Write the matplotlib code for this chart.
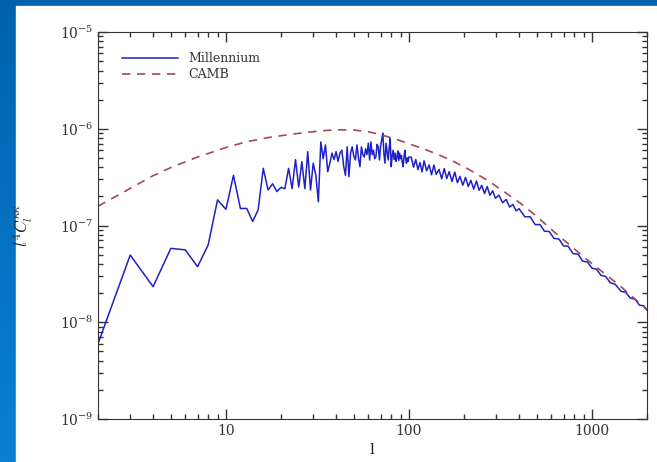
import numpy as np
import matplotlib.pyplot as plt
from matplotlib.colors import LinearSegmentedColormap
from matplotlib.patches import Rectangle
from matplotlib.ticker import NullFormatter

# Millennium simulation, l = 2..100 (units of 1e-7)
ell_low = list(range(2, 101))
mill_low = [0.060, 0.495, 0.233, 0.58, 0.56, 0.375, 0.63, 1.84, 1.47, 3.3,
            1.5, 1.5, 1.1, 1.45, 3.9, 2.33, 2.7, 2.24, 2.48, 2.4,
            3.9, 2.4, 4.8, 2.5, 4.57, 2.4, 5.8, 2.33, 4.4, 3.3,
            1.76, 7.3, 4.9, 6.8, 3.6, 4.4, 5.6, 4.8, 5.8, 4.6,
            5.6, 6.0, 4.1, 3.3, 6.5, 3.2, 5.6, 6.5, 5.2, 4.75,
            6.8, 5.0, 4.05, 6.5, 5.4, 5.1, 6.2, 5.4, 7.1, 4.75,
            7.3, 5.4, 6.0, 4.9, 5.1, 6.9, 6.5, 4.75, 6.6, 7.65,
            9.0, 5.5, 4.4, 7.1, 5.8, 4.75, 6.3, 7.9, 4.05, 5.2,
            6.0, 4.8, 5.6, 4.6, 5.1, 5.9, 4.7, 5.6, 4.9, 5.3,
            4.5, 4.05, 5.1, 6.0, 4.9, 4.4, 5.0, 4.6, 5.1]

# Millennium simulation, l > 100
ell_high = [103, 106, 109, 112, 115, 118, 121, 125, 129, 133, 137, 141, 146,
            151, 156, 161, 166, 172, 178, 184, 190, 197, 204, 211, 218, 226,
            234, 242, 250, 259, 268, 277, 287, 297, 310, 325, 340, 355, 370,
            385, 400, 430, 460, 490, 520, 550, 585, 620, 660, 700, 740, 790,
            840, 890, 946, 1000, 1060, 1120, 1190, 1260, 1340, 1442, 1530,
            1620, 1720, 1820, 1920, 2000]
mill_high = [5.08, 4.01, 4.81, 3.78, 4.48, 3.58, 4.66, 3.68, 4.23, 3.34, 4.22,
             3.37, 3.80, 3.04, 3.88, 3.06, 3.60, 2.85, 3.57, 2.77, 3.22, 2.61,
             3.14, 2.53, 2.93, 2.38, 2.88, 2.31, 2.60, 2.14, 2.53, 2.05, 2.28,
             1.91, 2.06, 1.72, 1.86, 1.55, 1.65, 1.42, 1.49, 1.23, 1.23, 1.02,
             1.025, 0.874, 0.866, 0.736, 0.726, 0.614, 0.612, 0.512, 0.505,
             0.428, 0.419, 0.363, 0.353, 0.306, 0.297, 0.256, 0.247, 0.209,
             0.204, 0.178, 0.173, 0.150, 0.148, 0.133]

# CAMB prediction (units of 1e-7)
camb_ell = [2, 3, 4, 5, 7, 10, 13, 17, 22, 28, 35, 42, 50, 60, 70, 85, 100,
            120, 145, 175, 210, 267, 330, 408, 500, 621, 760, 946, 1150, 1442,
            1700, 2000]
camb_val = [1.58, 2.42, 3.27, 3.97, 5.1, 6.4, 7.35, 8.1, 8.7, 9.2, 9.6, 9.75,
            9.7, 9.3, 8.7, 7.8, 7.0, 6.2, 5.4, 4.6, 3.85, 2.95, 2.25, 1.69,
            1.24, 0.86, 0.624, 0.44, 0.328, 0.233, 0.177, 0.135]

ell = np.array(ell_low + ell_high)
mill = np.array(mill_low + mill_high) * 1e-7
camb = np.array(camb_val) * 1e-7

plt.rcParams['font.family'] = 'DejaVu Serif'
plt.rcParams['mathtext.fontset'] = 'cm'

W, H = 657, 462
fig = plt.figure(figsize=(W / 100, H / 100), dpi=100)

# slide background
bg = fig.add_axes([0, 0, 1, 1], zorder=-10)
cmap = LinearSegmentedColormap.from_list('slide', ['#0062ae', '#0a80d2'])
bg.imshow(np.linspace(0, 1, 256).reshape(-1, 1), aspect='auto', cmap=cmap,
          extent=[0, 1, 0, 1])
bg.add_patch(Rectangle((16 / W, 0), 1, 1 - 6 / H, color='white'))
bg.set_xlim(0, 1)
bg.set_ylim(0, 1)
bg.axis('off')

ax = fig.add_axes([98 / W, 1 - 419 / H, 549 / W, 387 / H])
ax.loglog(ell, mill, color='#2020c8', lw=1.1, label='Millennium')
ax.loglog(camb_ell, camb, color='#a04a55', lw=1.2, ls=(0, (5, 4)), label='CAMB')
ax.set_xlim(2, 2000)
ax.set_ylim(1e-9, 1e-5)

ax.set_xticks([10, 100, 1000], labels=['10', '100', '1000'])
ax.xaxis.set_minor_formatter(NullFormatter())
ax.tick_params(which='both', direction='in', top=True, right=True,
               colors='#333333', labelsize=10)
ax.tick_params(which='major', length=7, width=1)
ax.tick_params(which='minor', length=3.5, width=1)
for s in ax.spines.values():
    s.set_color('#333333')

ax.set_xlabel('l', fontsize=11, color='#222222')
ax.set_ylabel(r'$l^4C_l^{\kappa\kappa}$', fontsize=12, color='#222222')
ax.yaxis.set_label_coords(-(98 - 35) / 549, 0.5)

ax.legend(loc='upper left', bbox_to_anchor=(0.0437, 0.948), frameon=False,
          borderaxespad=0, borderpad=0, handlelength=4.5, handletextpad=0.8,
          labelspacing=0.25, fontsize=9, labelcolor='#333333')

fig.savefig('out.png', dpi=100)
